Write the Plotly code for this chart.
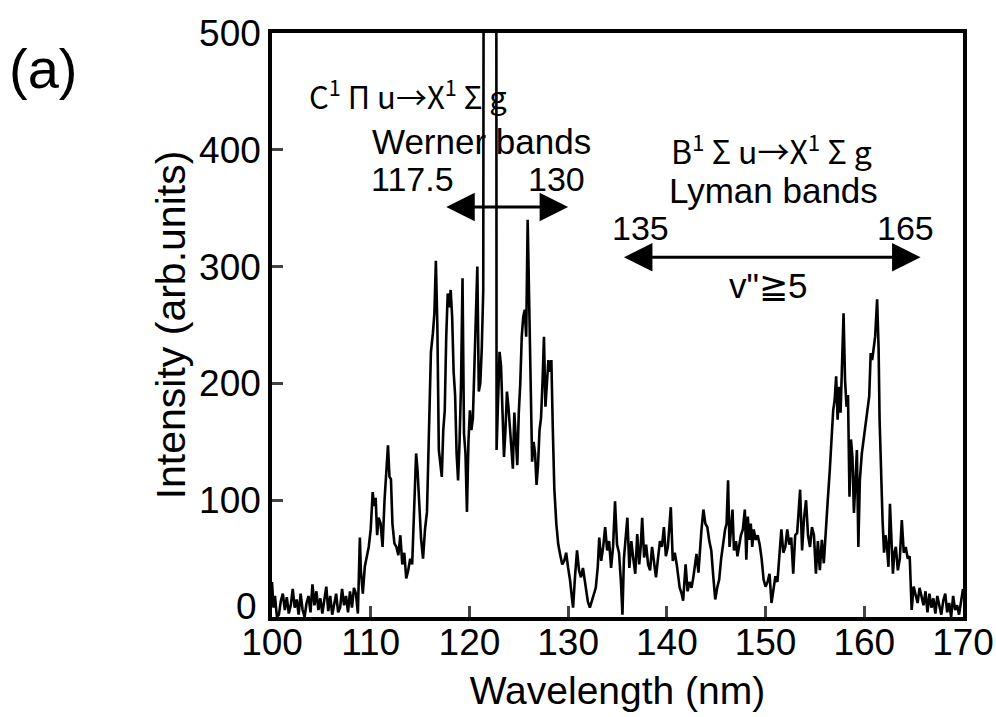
import plotly.graph_objects as go

wavelength = [
    100.0, 100.15, 100.3, 100.5, 100.7, 100.9, 101.1, 101.3, 101.5, 101.7, 101.9, 102.1, 102.3, 102.5, 102.7, 102.9,
    103.1, 103.3, 103.5, 103.7, 103.9, 104.1, 104.3, 104.5, 104.7, 104.9, 105.1, 105.3, 105.5, 105.7, 105.9, 106.1,
    106.3, 106.5, 106.7, 106.9, 107.1, 107.3, 107.5, 107.7, 107.9, 108.1, 108.3, 108.5, 108.7, 108.9, 109.0, 109.2,
    109.4, 109.6, 109.8, 110.0, 110.2, 110.35, 110.5, 110.65, 110.8, 111.0, 111.2, 111.4, 111.6, 111.75, 111.9, 112.05,
    112.2, 112.4, 112.6, 112.8, 113.0, 113.2, 113.4, 113.6, 113.8, 114.0, 114.2, 114.4, 114.6, 114.75, 114.9, 115.1,
    115.3, 115.5, 115.7, 115.9, 116.1, 116.3, 116.45, 116.6, 116.75, 116.9, 117.05, 117.2, 117.35, 117.5, 117.65, 117.8,
    117.95, 118.1, 118.25, 118.4, 118.55, 118.7, 118.85, 119.0, 119.15, 119.3, 119.45, 119.6, 119.75, 119.9, 120.05, 120.2,
    120.35, 120.5, 120.65, 120.8, 120.95, 121.1, 121.25, 121.4, 121.5, 122.7, 122.75, 122.9, 123.05, 123.2, 123.35, 123.5,
    123.65, 123.8, 123.95, 124.1, 124.25, 124.4, 124.55, 124.7, 124.85, 125.0, 125.15, 125.3, 125.45, 125.6, 125.75, 125.9,
    126.05, 126.2, 126.35, 126.5, 126.65, 126.8, 126.95, 127.1, 127.25, 127.4, 127.55, 127.7, 127.85, 128.0, 128.15, 128.3,
    128.45, 128.6, 128.8, 129.0, 129.2, 129.4, 129.6, 129.8, 130.0, 130.2, 130.4, 130.5, 130.7, 130.9, 131.1, 131.3,
    131.5, 131.7, 131.9, 132.0, 132.2, 132.4, 132.6, 132.8, 133.0, 133.15, 133.35, 133.55, 133.75, 133.95, 134.15, 134.35,
    134.55, 134.75, 134.95, 135.15, 135.35, 135.5, 135.65, 135.85, 136.0, 136.2, 136.4, 136.6, 136.8, 137.0, 137.2, 137.35,
    137.5, 137.7, 137.9, 138.1, 138.3, 138.5, 138.7, 138.9, 139.1, 139.3, 139.5, 139.7, 139.9, 140.1, 140.4, 140.6,
    140.8, 141.0, 141.3, 141.5, 141.65, 141.9, 142.1, 142.3, 142.5, 142.7, 143.0, 143.2, 143.5, 143.7, 143.9, 144.1,
    144.3, 144.5, 144.7, 144.9, 145.1, 145.3, 145.5, 145.7, 145.9, 146.05, 146.2, 146.35, 146.5, 146.65, 146.8, 147.0,
    147.15, 147.3, 147.5, 147.7, 147.9, 148.05, 148.2, 148.35, 148.5, 148.65, 148.8, 149.0, 149.2, 149.4, 149.6, 149.8,
    150.0, 150.2, 150.4, 150.6, 150.8, 151.0, 151.2, 151.4, 151.6, 151.8, 152.0, 152.2, 152.4, 152.6, 152.8, 153.0,
    153.2, 153.5, 153.7, 153.9, 154.1, 154.3, 154.5, 154.7, 154.9, 155.1, 155.3, 155.5, 155.7, 155.9, 156.1, 156.3,
    156.5, 156.7, 156.85, 157.0, 157.15, 157.3, 157.45, 157.6, 157.75, 157.9, 158.05, 158.2, 158.35, 158.5, 158.65, 158.8,
    158.95, 159.1, 159.25, 159.4, 159.55, 159.75, 159.9, 160.1, 160.3, 160.5, 160.65, 160.8, 160.95, 161.1, 161.3, 161.45,
    161.55, 161.7, 161.85, 162.0, 162.15, 162.3, 162.45, 162.6, 162.75, 162.9, 163.05, 163.2, 163.4, 163.6, 163.8, 164.0,
    164.2, 164.4, 164.6, 164.8, 165.0, 165.2, 165.4, 165.6, 165.8, 166.0, 166.2, 166.4, 166.6, 166.8, 167.0, 167.2,
    167.4, 167.6, 167.8, 168.0, 168.2, 168.4, 168.6, 168.8, 169.0, 169.2, 169.4, 169.6, 169.8, 170.0,
]

intensity = [
    30, 8, 18, 0, 2, 14, 20, 6, 17, 3, 10, 24, 8, 15, 2, 20,
    6, 0, 12, 18, 4, 28, 10, 22, 6, 16, 3, 14, 26, 5, 18, 2,
    12, 20, 4, 8, 24, 10, 18, 4, 22, 8, 25, 20, 3, 68, 40, 20,
    43, 52, 60, 75, 107, 95, 102, 70, 85, 80, 60, 100, 130, 147, 120, 118,
    80, 63, 60, 53, 70, 45, 55, 33, 40, 50, 45, 100, 140, 125, 100, 67,
    50, 75, 90, 160, 227, 243, 260, 305, 250, 143, 130, 120, 160, 177, 240, 277,
    265, 280, 257, 210, 190, 140, 117, 150, 200, 290, 157, 140, 90, 150, 177, 160,
    170, 210, 250, 300, 193, 200, 230, 280, 1000, 1000, 143, 190, 227, 215, 170, 137,
    160, 193, 180, 160, 140, 127, 175, 150, 130, 175, 200, 240, 257, 263, 240, 340,
    270, 210, 133, 150, 140, 113, 130, 160, 170, 200, 240, 180, 205, 220, 210, 220,
    160, 110, 80, 62, 53, 45, 48, 55, 42, 31, 15, 8, 35, 57, 40, 34,
    42, 30, 17, 13, 8, 14, 20, 25, 43, 68, 48, 60, 77, 57, 65, 42,
    60, 99, 62, 55, 30, 2, 50, 70, 85, 42, 65, 50, 37, 71, 45, 60,
    85, 51, 62, 45, 40, 60, 48, 34, 50, 65, 60, 77, 52, 60, 94, 48,
    55, 45, 25, 20, 14, 45, 22, 30, 25, 35, 54, 38, 74, 92, 80, 77,
    65, 57, 35, 15, 25, 32, 50, 63, 75, 80, 117, 60, 75, 92, 57, 65,
    52, 60, 70, 75, 92, 49, 86, 66, 80, 60, 75, 66, 70, 62, 50, 32,
    26, 30, 37, 12, 25, 35, 30, 57, 75, 55, 60, 75, 62, 68, 37, 70,
    72, 109, 57, 85, 100, 70, 60, 77, 70, 37, 65, 40, 66, 46, 77, 100,
    125, 150, 177, 186, 206, 169, 197, 175, 210, 260, 203, 180, 190, 103, 152, 137,
    89, 115, 143, 60, 117, 140, 150, 165, 175, 189, 226, 220, 230, 240, 272, 230,
    169, 120, 83, 55, 70, 60, 43, 97, 60, 37, 55, 60, 40, 50, 83, 55,
    60, 50, 52, 6, 26, 20, 12, 25, 18, 10, 22, 4, 20, 8, 16, 3,
    18, 10, 2, 14, 20, 4, 12, 0, 18, 6, 10, 2, 14, 24,
]

x_ticks = [100, 110, 120, 130, 140, 150, 160, 170]
y_ticks = [0, 100, 200, 300, 400, 500]
y_tick_text = ["", "100", "200", "300", "400", "500"]

werner_range = [117.5, 130]
lyman_range = [135.5, 165.7]

fig = go.Figure()
fig.add_trace(go.Scatter(x=wavelength, y=intensity, mode="lines",
                         line=dict(color="black", width=2.6), showlegend=False))

font_main = "Liberation Sans, Arial, sans-serif"
font_cjk = "Noto Sans CJK JP, sans-serif"

fig.update_layout(
    width=996, height=717,
    margin=dict(l=272, r=33, t=33, b=100),
    paper_bgcolor="white", plot_bgcolor="white",
    font=dict(family=font_main, color="black"),
    xaxis=dict(range=[100, 170], tickvals=x_ticks, ticks="inside", ticklen=11, tickwidth=3,
               showline=True, linewidth=3.5, linecolor="black", mirror=True, showgrid=False,
               zeroline=False, automargin=False, ticklabelstandoff=-10,
               tickfont=dict(size=37, family=font_main),
               title=dict(text="Wavelength (nm)", font=dict(size=39, family=font_main), standoff=16)),
    yaxis=dict(range=[0, 500], tickvals=y_ticks, ticktext=y_tick_text, ticks="inside", ticklen=11, tickwidth=3,
               showline=True, linewidth=3.5, linecolor="black", mirror=True, showgrid=False,
               zeroline=False, automargin=False,
               tickfont=dict(size=37, family=font_main),
               title=dict(text="Intensity (arb.units)", font=dict(size=41, family=font_main), standoff=2)),
)

# zero label of the y axis (raised slightly, as in the original)
fig.add_annotation(xref="paper", yref="y", x=0, y=0, xanchor="right", yanchor="middle",
                   xshift=-13, yshift=11, text="0", showarrow=False,
                   font=dict(family=font_main, size=37, color="black"))

texts = [
    (113.8, 447, "C<sup>1</sup> Π u→X<sup>1</sup> Σ g", font_cjk, 31),
    (121.2, 407, "Werner bands", font_main, 35),
    (114.2, 375, "117.5", font_main, 34),
    (128.8, 375, "130", font_main, 34),
    (150.6, 401, "B<sup>1</sup> Σ u→X<sup>1</sup> Σ g", font_cjk, 32),
    (150.8, 365, "Lyman bands", font_main, 35),
    (137.3, 333, "135", font_main, 34),
    (164.2, 333, "165", font_main, 34),
    (150.2, 284, "v\"≧5", font_main, 35),
]
for x, y, t, fam, sz in texts:
    fig.add_annotation(x=x, y=y, text=t, showarrow=False, borderpad=0,
                       font=dict(family=fam, size=sz, color="black"))

for (a, b), yv in [(werner_range, 351), (lyman_range, 308)]:
    fig.add_annotation(x=b, y=yv, ax=a, ay=yv, axref="x", ayref="y", xref="x", yref="y", text="",
                       showarrow=True, arrowside="end+start", arrowhead=2, arrowsize=1.9,
                       arrowwidth=3, arrowcolor="black", standoff=0, startstandoff=0)

fig.add_annotation(xref="paper", yref="paper", x=-0.384, y=0.94, xanchor="left", yanchor="middle",
                   text="(a)", showarrow=False, font=dict(family=font_main, size=56, color="black"))

fig.write_html("out.html", config={"displayModeBar": False},
               post_script="document.body.style.margin='0';document.body.style.overflow='hidden';")
